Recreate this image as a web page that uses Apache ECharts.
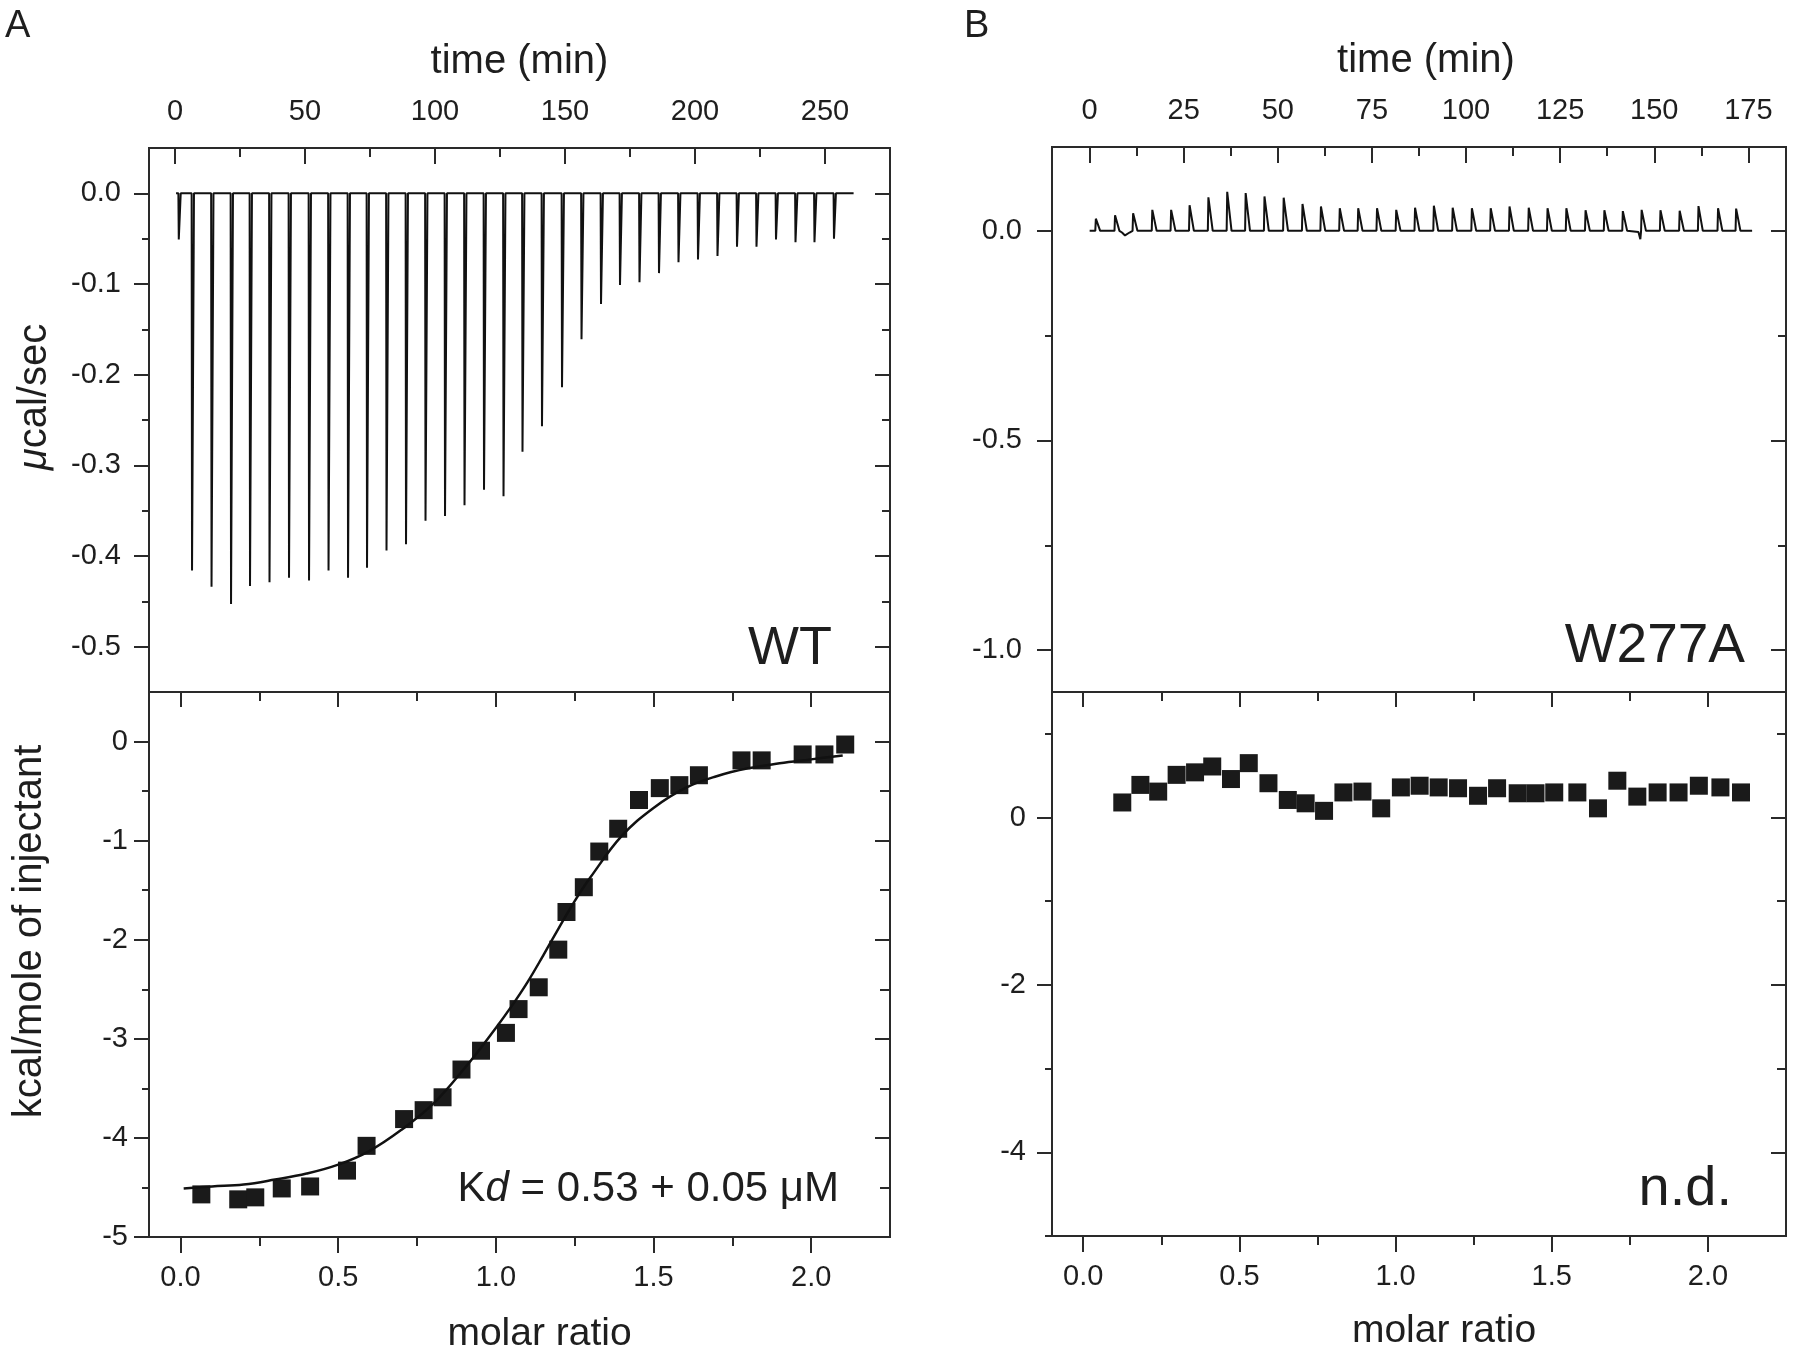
<!DOCTYPE html>
<html>
<head>
<meta charset="utf-8">
<script src="https://cdn.jsdelivr.net/npm/echarts@6/dist/echarts.min.js"></script>
<style>
html,body{margin:0;padding:0;background:#fff;}
#chart{width:1800px;height:1360px;}
</style>
</head>
<body>
<div id="chart"></div>
<script>
// ---------------- DATA ----------------
// Panel A (WT) – raw thermogram: injection times (min) and peak heights (µcal/sec)
const injTimeA = [1.3,6.4,13.9,21.4,28.7,36.2,43.7,51.4,58.9,66.4,73.7,81.2,88.7,96.2,103.7,111.2,118.7,126.2,133.5,141.0,148.7,156.2,163.7,171.0,178.5,186.0,193.5,201.0,208.5,216.0,223.5,231.0,238.5,245.8,253.3];
const injPeakA = [-0.051,-0.416,-0.434,-0.453,-0.433,-0.429,-0.424,-0.427,-0.416,-0.424,-0.413,-0.394,-0.387,-0.361,-0.356,-0.344,-0.327,-0.334,-0.285,-0.257,-0.214,-0.161,-0.122,-0.101,-0.098,-0.088,-0.076,-0.073,-0.069,-0.059,-0.059,-0.051,-0.054,-0.054,-0.050];
const baselineA = [0.4, 261];

// Panel A – integrated heats (kcal/mole of injectant) vs molar ratio
const molarA = [0.066,0.183,0.237,0.321,0.411,0.528,0.590,0.709,0.771,0.831,0.891,0.953,1.032,1.072,1.136,1.198,1.224,1.279,1.328,1.388,1.454,1.520,1.582,1.644,1.779,1.843,1.973,2.042,2.108];
const heatA  = [-4.57,-4.62,-4.60,-4.51,-4.49,-4.33,-4.08,-3.81,-3.72,-3.59,-3.31,-3.12,-2.94,-2.70,-2.48,-2.10,-1.72,-1.47,-1.11,-0.88,-0.59,-0.47,-0.44,-0.34,-0.19,-0.19,-0.13,-0.13,-0.03];

// Panel A – fitted curve
const fitX = [0.01,0.1,0.2,0.3,0.4,0.5,0.6,0.7,0.8,0.9,1.0,1.05,1.1,1.15,1.2,1.25,1.3,1.4,1.5,1.6,1.7,1.8,1.9,2.0,2.1];
const fitY = [-4.51,-4.49,-4.47,-4.42,-4.36,-4.27,-4.13,-3.92,-3.66,-3.30,-2.89,-2.67,-2.43,-2.16,-1.88,-1.61,-1.37,-0.95,-0.67,-0.47,-0.35,-0.27,-0.22,-0.18,-0.14];

// Panel B (W277A) – raw thermogram
const injTimeB = [1.5,6.6,11.4,16.5,21.5,26.4,31.4,36.4,41.3,46.3,51.4,56.4,61.3,66.3,71.2,76.2,81.3,86.3,91.3,96.3,101.4,106.4,111.4,116.5,121.5,126.5,131.6,136.6,141.5,146.5,151.5,156.6,161.6,166.8,171.6];
const injPeakB = [0.029,0.037,0.042,0.050,0.050,0.061,0.080,0.093,0.090,0.082,0.079,0.064,0.058,0.054,0.054,0.054,0.050,0.055,0.060,0.055,0.054,0.054,0.058,0.055,0.054,0.054,0.049,0.049,0.047,0.050,0.049,0.048,0.059,0.054,0.053];
const dipsB = [[8.6,-0.004],[9.4,-0.011],[10.6,-0.004],[145.8,-0.003],[146.3,-0.020]];
const baselineB = [0, 176];

// Panel B – integrated heats
const molarB = [0.125,0.183,0.240,0.299,0.358,0.413,0.473,0.530,0.593,0.655,0.712,0.771,0.833,0.894,0.954,1.017,1.077,1.138,1.200,1.264,1.325,1.391,1.448,1.508,1.582,1.648,1.710,1.774,1.839,1.906,1.971,2.040,2.106];
const heatB  = [0.18,0.39,0.31,0.51,0.54,0.61,0.46,0.65,0.41,0.21,0.17,0.08,0.30,0.31,0.11,0.36,0.38,0.36,0.35,0.26,0.35,0.29,0.29,0.30,0.30,0.11,0.44,0.25,0.30,0.30,0.38,0.36,0.30];

// Tick values
const timeMajorA = [0,50,100,150,200,250];
const timeMinorA = [25,75,125,175,225];
const timeMajorB = [0,25,50,75,100,125,150,175];
const timeMinorB = [12.5,37.5,62.5,87.5,112.5,137.5,162.5];
const powMajorA = [-0.5,-0.4,-0.3,-0.2,-0.1,0];
const powMinorA = [-0.45,-0.35,-0.25,-0.15,-0.05];
const powMajorB = [-1,-0.5,0];
const powMinorB = [-0.75,-0.25];
const molarMajor = [0,0.5,1,1.5,2];
const molarMinor = [0.25,0.75,1.25,1.75];
const heatMajorA = [-5,-4,-3,-2,-1,0];
const heatMinorA = [-4.5,-3.5,-2.5,-1.5,-0.5];
const heatMajorB = [-4,-2,0];
const heatMinorB = [-5,-3,-1,1];

// ---------------- BUILD ----------------
const FONT = "'Liberation Sans', Arial, Helvetica, sans-serif";
const INK = '#1e1e1e';
const TICK = {color:'#2a2a2a', width:2};

function thermogram(times, peaks, base, back, extra) {
  const pts = [[base[0], 0]];
  times.forEach((t, i) => {
    pts.push([t, 0], [t + 0.15, peaks[i]], [t + back, 0]);
  });
  (extra || []).forEach(p => pts.push(p));
  pts.push([base[1], 0]);
  pts.sort((a, b) => a[0] - b[0]);
  return pts;
}
function zip(a, b) { return a.map((v, i) => [v, b[i]]); }

const xAxes = [], yAxes = [];
function addAxis(list, o) {
  const ax = {
    type:'value', gridIndex:o.grid, position:o.pos, min:o.range[0], max:o.range[1],
    axisLine:{show:false, onZero:false}, splitLine:{show:false},
    axisTick:{show:true, inside:o.inside, length:o.len, customValues:o.ticks, lineStyle:TICK},
    axisLabel: o.labels ? {show:true, customValues:o.ticks, margin:o.margin, formatter:o.fmt,
      fontSize:29, color:INK, fontFamily:FONT} : {show:false}
  };
  if (o.name) {
    ax.name = o.name; ax.nameLocation = 'middle'; ax.nameGap = o.nameGap;
    ax.nameTextStyle = Object.assign({fontSize:40, color:INK, fontFamily:FONT}, o.nameStyle || {});
  }
  list.push(ax);
  return list.length - 1;
}
const f1 = v => v.toFixed(1);
const f0 = v => String(Math.round(v));

// grid 0: A top ; grid 1: A bottom ; grid 2: B top ; grid 3: B bottom
const grids = [
  {left:149, top:148, width:741, height:544},
  {left:149, top:692, width:741, height:545},
  {left:1052, top:147, width:734, height:545},
  {left:1052, top:692, width:734, height:544}
].map(g => Object.assign(g, {show:true, borderColor:'#2a2a2a', borderWidth:2, backgroundColor:'transparent', containLabel:false}));

const tRangeA = [-10, 275], tRangeB = [-10, 185], mRange = [-0.1, 2.25];
const pRangeA = [-0.55, 0.05], pRangeB = [-1.1, 0.2], hRangeA = [-5, 0.5], hRangeB = [-5, 1.5];

// ---- grid 0 (A top)
const xA0 = addAxis(xAxes, {grid:0, pos:'top', range:tRangeA, inside:true, len:16, ticks:timeMajorA, labels:true, margin:22, fmt:f0,
  name:'time (min)', nameGap:66});
addAxis(xAxes, {grid:0, pos:'top', range:tRangeA, inside:true, len:9, ticks:timeMinorA});
const yA0 = addAxis(yAxes, {grid:0, pos:'left', range:pRangeA, inside:false, len:15, ticks:powMajorA, labels:true, margin:28, fmt:f1,
  name:'{i|\u03bc}cal/sec', nameGap:94,
  nameStyle:{padding:[0,0,0,46], rich:{i:{fontStyle:'italic', fontSize:40, fontFamily:FONT, color:INK}}}});
addAxis(yAxes, {grid:0, pos:'left', range:pRangeA, inside:false, len:7, ticks:powMinorA});
addAxis(yAxes, {grid:0, pos:'right', range:pRangeA, inside:true, len:15, ticks:powMajorA});
addAxis(yAxes, {grid:0, pos:'right', range:pRangeA, inside:true, len:8, ticks:powMinorA});

// ---- grid 1 (A bottom)
const xA1 = addAxis(xAxes, {grid:1, pos:'bottom', range:mRange, inside:false, len:16, ticks:molarMajor, labels:true, margin:26, fmt:f1,
  name:'molar ratio', nameGap:78, nameStyle:{padding:[0,0,0,40], fontSize:39}});
addAxis(xAxes, {grid:1, pos:'bottom', range:mRange, inside:false, len:9, ticks:molarMinor});
addAxis(xAxes, {grid:1, pos:'top', range:mRange, inside:true, len:15, ticks:molarMajor});
addAxis(xAxes, {grid:1, pos:'top', range:mRange, inside:true, len:9, ticks:molarMinor});
const yA1 = addAxis(yAxes, {grid:1, pos:'left', range:hRangeA, inside:false, len:15, ticks:heatMajorA, labels:true, margin:21, fmt:f0,
  name:'kcal/mole of injectant', nameGap:99, nameStyle:{padding:[0,0,0,66]}});
addAxis(yAxes, {grid:1, pos:'left', range:hRangeA, inside:false, len:7, ticks:heatMinorA});
addAxis(yAxes, {grid:1, pos:'right', range:hRangeA, inside:true, len:15, ticks:heatMajorA});
addAxis(yAxes, {grid:1, pos:'right', range:hRangeA, inside:true, len:10, ticks:heatMinorA});

// ---- grid 2 (B top)
const xB0 = addAxis(xAxes, {grid:2, pos:'top', range:tRangeB, inside:true, len:16, ticks:timeMajorB, labels:true, margin:22, fmt:f0,
  name:'time (min)', nameGap:66, nameStyle:{padding:[0,0,0,14]}});
addAxis(xAxes, {grid:2, pos:'top', range:tRangeB, inside:true, len:9, ticks:timeMinorB});
const yB0 = addAxis(yAxes, {grid:2, pos:'left', range:pRangeB, inside:false, len:15, ticks:powMajorB, labels:true, margin:30, fmt:f1});
addAxis(yAxes, {grid:2, pos:'left', range:pRangeB, inside:false, len:7, ticks:powMinorB});
addAxis(yAxes, {grid:2, pos:'right', range:pRangeB, inside:true, len:15, ticks:powMajorB});
addAxis(yAxes, {grid:2, pos:'right', range:pRangeB, inside:true, len:8, ticks:powMinorB});

// ---- grid 3 (B bottom)
const xB1 = addAxis(xAxes, {grid:3, pos:'bottom', range:mRange, inside:false, len:16, ticks:molarMajor, labels:true, margin:26, fmt:f1,
  name:'molar ratio', nameGap:76, nameStyle:{padding:[0,0,0,50], fontSize:39}});
addAxis(xAxes, {grid:3, pos:'bottom', range:mRange, inside:false, len:9, ticks:molarMinor});
addAxis(xAxes, {grid:3, pos:'top', range:mRange, inside:true, len:15, ticks:molarMajor});
addAxis(xAxes, {grid:3, pos:'top', range:mRange, inside:true, len:9, ticks:molarMinor});
const yB1 = addAxis(yAxes, {grid:3, pos:'left', range:hRangeB, inside:false, len:15, ticks:heatMajorB, labels:true, margin:26, fmt:f0});
addAxis(yAxes, {grid:3, pos:'left', range:hRangeB, inside:false, len:7, ticks:heatMinorB});
addAxis(yAxes, {grid:3, pos:'right', range:hRangeB, inside:true, len:15, ticks:heatMajorB});
addAxis(yAxes, {grid:3, pos:'right', range:hRangeB, inside:true, len:9, ticks:heatMinorB});

const squareStyle = {symbol:'rect', symbolSize:18, itemStyle:{color:'#1a1a1a', opacity:1}};

const series = [
  {type:'line', name:'WT thermogram', xAxisIndex:xA0, yAxisIndex:yA0, data:thermogram(injTimeA, injPeakA, baselineA, 0.9),
   symbol:'none', lineStyle:{color:'#111', width:2}, animation:false},
  Object.assign({type:'scatter', name:'WT heats', xAxisIndex:xA1, yAxisIndex:yA1, data:zip(molarA, heatA), animation:false, z:2}, squareStyle),
  {type:'line', name:'WT fit', xAxisIndex:xA1, yAxisIndex:yA1, data:zip(fitX, fitY), smooth:0.4,
   symbol:'none', lineStyle:{color:'#111', width:2.5}, animation:false, z:3},
  {type:'line', name:'W277A thermogram', xAxisIndex:xB0, yAxisIndex:yB0, data:thermogram(injTimeB, injPeakB, baselineB, 1.3, dipsB),
   symbol:'none', lineStyle:{color:'#111', width:2}, animation:false},
  Object.assign({type:'scatter', name:'W277A heats', xAxisIndex:xB1, yAxisIndex:yB1, data:zip(molarB, heatB), animation:false}, squareStyle)
];

const txt = (x, y, text, size, align, extra) => ({
  type:'text', x:x, y:y, z:100,
  style:Object.assign({text:text, fontSize:size, fontFamily:FONT, fill:INK, textAlign:align, textVerticalAlign:'middle'}, extra || {})
});

const graphic = [
  txt(5, 27, 'A', 38, 'left'),
  txt(964, 27, 'B', 38, 'left'),
  txt(832, 649, 'WT', 54, 'right'),
  txt(1745, 647, 'W277A', 55, 'right'),
  txt(1732, 1190, 'n.d.', 56, 'right'),
  txt(839, 1189, '{r|K}{i|d}{r| = 0.53 + 0.05 \u03bcM}', 42, 'right', {
    rich:{r:{fontSize:42, fontFamily:FONT, fill:INK}, i:{fontSize:42, fontFamily:FONT, fontStyle:'italic', fill:INK}}
  })
];

const chart = echarts.init(document.getElementById('chart'), null, {renderer:'canvas'});
chart.setOption({
  backgroundColor:'#ffffff',
  animation:false,
  textStyle:{fontFamily:FONT},
  grid:grids,
  xAxis:xAxes,
  yAxis:yAxes,
  series:series,
  graphic:graphic
});
</script>
</body>
</html>
